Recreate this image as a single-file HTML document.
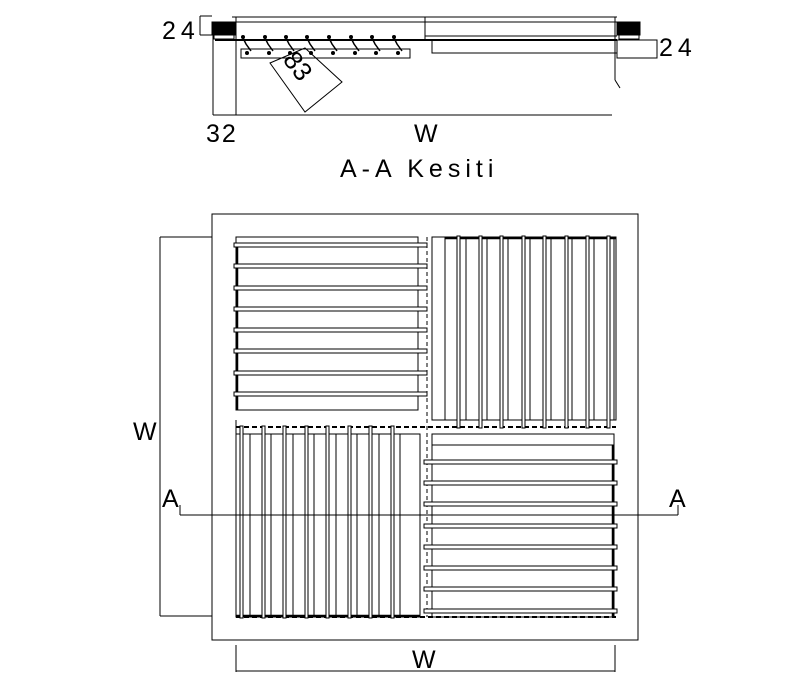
<!DOCTYPE html>
<html><head><meta charset="utf-8"><style>html,body{margin:0;padding:0;background:#fff}svg{display:block}text{font-family:"Liberation Sans",sans-serif;fill:#000;font-weight:normal}</style></head><body>
<svg width="800" height="700" viewBox="0 0 800 700" xmlns="http://www.w3.org/2000/svg" fill="none" stroke="#000" stroke-width="1">
<!-- Section A-A -->
<line x1="232" y1="17" x2="617" y2="17"/>
<line x1="236" y1="22" x2="617" y2="22"/>
<line x1="425" y1="17" x2="425" y2="40"/>
<rect x="212" y="22" width="23" height="13" fill="#000"/>
<rect x="617" y="22" width="23" height="13" fill="#000"/>
<rect x="214" y="35" width="20" height="4" fill="#fff"/>
<rect x="619" y="35" width="20" height="4" fill="#fff"/>
<line x1="215" y1="40" x2="617" y2="40" stroke-width="2"/>
<line x1="425" y1="36" x2="617" y2="36"/>
<rect x="432" y="40" width="185" height="13"/>
<rect x="241" y="49" width="169" height="9"/>
<line x1="213" y1="35" x2="213" y2="115"/>
<line x1="236" y1="17" x2="236" y2="115"/>
<line x1="615" y1="17" x2="615" y2="80"/>
<line x1="615" y1="80" x2="620" y2="88"/>
<rect x="617" y="40" width="40" height="18"/>
<line x1="213" y1="115" x2="612" y2="115"/>
<line x1="200" y1="16" x2="200" y2="35"/>
<line x1="200" y1="16" x2="212" y2="16"/>
<line x1="200" y1="35" x2="212" y2="35"/>
<g stroke-width="1.5">
<path d="M242 36 l4 8 l5 7"/><path d="M264 36 l4 8 l5 7"/><path d="M285 36 l4 8 l5 7"/><path d="M306 36 l4 8 l5 7"/><path d="M328 36 l4 8 l5 7"/><path d="M350 36 l4 8 l5 7"/><path d="M371 36 l4 8 l5 7"/><path d="M393 36 l4 8 l5 7"/>
</g>
<g fill="#000" stroke="none">
<circle cx="243" cy="37" r="2"/><circle cx="265" cy="37" r="2"/><circle cx="286" cy="37" r="2"/><circle cx="307" cy="37" r="2"/><circle cx="329" cy="37" r="2"/><circle cx="351" cy="37" r="2"/><circle cx="372" cy="37" r="2"/><circle cx="394" cy="37" r="2"/>
<circle cx="247" cy="53" r="2"/><circle cx="269" cy="53" r="2"/><circle cx="290" cy="53" r="2"/><circle cx="311" cy="53" r="2"/><circle cx="333" cy="53" r="2"/><circle cx="355" cy="53" r="2"/><circle cx="376" cy="53" r="2"/><circle cx="398" cy="53" r="2"/>
</g>
<path d="M270 63 L305 48 L342 82 L305 112 Z"/>
<text x="0" y="0" font-size="26" transform="translate(282 60) rotate(52)" stroke="none">83</text>
<text x="162" y="39" font-size="25" stroke="none" letter-spacing="5">24</text>
<text x="659" y="56" font-size="25" stroke="none" letter-spacing="5">24</text>
<text x="206" y="142" font-size="25" stroke="none" letter-spacing="2">32</text>
<text x="414" y="142" font-size="25" stroke="none">W</text>
<text x="340" y="177" font-size="25" stroke="none" letter-spacing="5">A-A Kesiti</text>

<!-- Plan -->
<rect x="212" y="214" width="426" height="426"/>
<line x1="427" y1="237" x2="427" y2="617" stroke-dasharray="4,3"/>
<line x1="236" y1="427" x2="616" y2="427" stroke-dasharray="5,3" stroke-width="2"/>
<line x1="236" y1="617" x2="616" y2="617" stroke-dasharray="5,3" stroke-width="2"/>
<!-- TL -->
<rect x="236" y="237" width="182" height="173"/>
<line x1="237" y1="244" x2="237" y2="410" stroke-width="2.5"/>
<g fill="#fff">
<rect x="234" y="243" width="193" height="4"/><rect x="234" y="264" width="193" height="4"/><rect x="234" y="286" width="193" height="4"/><rect x="234" y="307" width="193" height="4"/><rect x="234" y="328" width="193" height="4"/><rect x="234" y="349" width="193" height="4"/><rect x="234" y="371" width="193" height="4"/><rect x="234" y="392" width="193" height="4"/>
</g>
<!-- TR -->
<rect x="432" y="237" width="184" height="183"/>
<line x1="445" y1="237" x2="445" y2="420"/>
<line x1="445" y1="238" x2="616" y2="238" stroke-width="2.5"/>
<g fill="#fff">
<rect x="457" y="236" width="3" height="192"/><rect x="479" y="236" width="3" height="192"/><rect x="500" y="236" width="3" height="192"/><rect x="522" y="236" width="3" height="192"/><rect x="543" y="236" width="3" height="192"/><rect x="565" y="236" width="3" height="192"/><rect x="586" y="236" width="3" height="192"/><rect x="607" y="236" width="3" height="192"/>
</g>
<g><line x1="466" y1="237" x2="466" y2="420"/><line x1="487" y1="237" x2="487" y2="420"/><line x1="508" y1="237" x2="508" y2="420"/><line x1="530" y1="237" x2="530" y2="420"/><line x1="551" y1="237" x2="551" y2="420"/><line x1="572" y1="237" x2="572" y2="420"/><line x1="594" y1="237" x2="594" y2="420"/><line x1="614" y1="237" x2="614" y2="420"/></g>
<!-- BL -->
<rect x="236" y="434" width="184" height="183"/>
<line x1="236" y1="420" x2="236" y2="434"/>
<line x1="236" y1="616" x2="420" y2="616" stroke-width="2.5"/>
<g fill="#fff">
<rect x="240" y="426" width="3" height="192"/><rect x="262" y="426" width="3" height="192"/><rect x="283" y="426" width="3" height="192"/><rect x="305" y="426" width="3" height="192"/><rect x="326" y="426" width="3" height="192"/><rect x="348" y="426" width="3" height="192"/><rect x="369" y="426" width="3" height="192"/><rect x="391" y="426" width="3" height="192"/>
</g>
<g><line x1="250" y1="434" x2="250" y2="617"/><line x1="271" y1="434" x2="271" y2="617"/><line x1="293" y1="434" x2="293" y2="617"/><line x1="314" y1="434" x2="314" y2="617"/><line x1="336" y1="434" x2="336" y2="617"/><line x1="357" y1="434" x2="357" y2="617"/><line x1="379" y1="434" x2="379" y2="617"/><line x1="400" y1="434" x2="400" y2="617"/></g>
<!-- BR -->
<rect x="432" y="434" width="182" height="183"/>
<line x1="432" y1="445" x2="614" y2="445"/>
<line x1="613" y1="445" x2="613" y2="617" stroke-width="2.5"/>
<g fill="#fff">
<rect x="424" y="460" width="193" height="4"/><rect x="424" y="481" width="193" height="4"/><rect x="424" y="502" width="193" height="4"/><rect x="424" y="524" width="193" height="4"/><rect x="424" y="545" width="193" height="4"/><rect x="424" y="566" width="193" height="4"/><rect x="424" y="587" width="193" height="4"/><rect x="424" y="609" width="193" height="4"/>
</g>
<!-- section line -->
<line x1="180" y1="515" x2="678" y2="515"/>
<line x1="180" y1="505" x2="180" y2="515"/>
<line x1="678" y1="505" x2="678" y2="515"/>
<text x="162" y="507" font-size="25" stroke="none">A</text>
<text x="669" y="507" font-size="25" stroke="none">A</text>
<!-- dims -->
<line x1="160" y1="237" x2="160" y2="616"/>
<line x1="160" y1="237" x2="212" y2="237"/>
<line x1="160" y1="616" x2="212" y2="616"/>
<text x="133" y="440" font-size="25" stroke="none">W</text>
<line x1="236" y1="645" x2="236" y2="672"/>
<line x1="615" y1="645" x2="615" y2="672"/>
<line x1="236" y1="671" x2="615" y2="671"/>
<text x="412" y="668" font-size="25" stroke="none">W</text>
</svg>
</body></html>
